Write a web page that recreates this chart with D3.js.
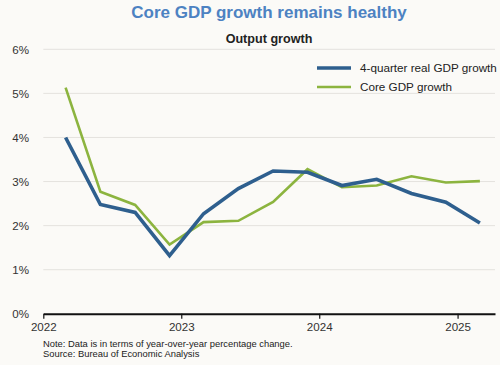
<!DOCTYPE html>
<html><head><meta charset="utf-8">
<script src="https://cdn.jsdelivr.net/npm/d3@7"></script>
<style>html,body{margin:0;padding:0;background:#fbfaf7;}svg{display:block;font-family:"Liberation Sans",Arial,sans-serif;}</style>
</head><body>
<script>
const dates = ["2022-03-01","2022-06-01","2022-09-01","2022-12-01","2023-03-01","2023-06-01","2023-09-01","2023-12-01","2024-03-01","2024-06-01","2024-09-01","2024-12-01","2025-03-01"];
const realGDP = [4.00,2.48,2.30,1.32,2.27,2.84,3.24,3.21,2.91,3.05,2.73,2.53,2.06];
const coreGDP = [5.13,2.77,2.47,1.57,2.08,2.11,2.54,3.28,2.87,2.91,3.12,2.98,3.01];
const yTicks = [0,1,2,3,4,5,6];
const xTicks = ["2022-01-01","2023-01-01","2024-01-01","2025-01-01"];
const seriesNames = ["4-quarter real GDP growth","Core GDP growth"];
const colors = ["#2e5f8e","#8cb43f"];

const W=500,H=365;
const svg=d3.select("body").append("svg").attr("width",W).attr("height",H);
svg.append("rect").attr("width",W).attr("height",H).attr("fill","#fbfaf7");
const parse=d3.timeParse("%Y-%m-%d");
const x=d3.scaleTime().domain([parse("2022-01-01"),parse("2025-04-10")]).range([43.3,495]);
const y=d3.scaleLinear().domain([0,6]).range([313.8,49.3]);

svg.append("text").attr("x",269).attr("y",17.5).attr("text-anchor","middle").attr("font-size",17).attr("font-weight","bold").attr("fill","#4d82c2").text("Core GDP growth remains healthy");
svg.append("text").attr("x",269).attr("y",42.5).attr("text-anchor","middle").attr("font-size",12.6).attr("font-weight","bold").attr("fill","#222").text("Output growth");

// grid
svg.append("g").selectAll("line").data(yTicks.filter(d=>d>0)).join("line")
 .attr("x1",43.3).attr("x2",495).attr("y1",d=>y(d)).attr("y2",d=>y(d)).attr("stroke","#e4e2de").attr("stroke-width",1);
// y labels
svg.append("g").selectAll("text").data(yTicks).join("text")
 .attr("x",29).attr("y",d=>y(d)+4.2).attr("text-anchor","end").attr("font-size",11.6).attr("fill","#333").text(d=>d+"%");

// x axis
const xa=d3.axisBottom(x).tickValues(xTicks.map(parse)).tickFormat(d3.timeFormat("%Y")).tickSize(5).tickSizeOuter(0);
const gx=svg.append("g").attr("transform",`translate(0,${y(0)})`).call(xa);
gx.select(".domain").attr("stroke","#111").attr("stroke-width",2);
gx.selectAll(".tick line").attr("stroke","#111").attr("stroke-width",1.2);
gx.selectAll(".tick text").attr("font-size",11.6).attr("fill","#333").attr("font-family","Liberation Sans, Arial, sans-serif").attr("y",17.7).attr("dy",0);

const line=d3.line().x((d,i)=>x(parse(dates[i]))).y(d=>y(d));
svg.append("path").datum(coreGDP).attr("d",line).attr("fill","none").attr("stroke",colors[1]).attr("stroke-width",2.6).attr("stroke-linejoin","miter");
svg.append("path").datum(realGDP).attr("d",line).attr("fill","none").attr("stroke",colors[0]).attr("stroke-width",3.6).attr("stroke-linejoin","miter");

// legend
const lg=svg.append("g");
seriesNames.forEach((n,i)=>{
  const yy=68+i*19;
  lg.append("line").attr("x1",317).attr("x2",351).attr("y1",yy).attr("y2",yy).attr("stroke",colors[i]).attr("stroke-width",i===0?3.6:2.6);
  lg.append("text").attr("x",360).attr("y",yy+4.4).attr("font-size",11.7).attr("fill","#222").text(n);
});

svg.append("text").attr("x",43).attr("y",347).attr("font-size",9.4).attr("fill","#222").text("Note: Data is in terms of year-over-year percentage change.");
svg.append("text").attr("x",43).attr("y",356.5).attr("font-size",9.4).attr("fill","#222").text("Source: Bureau of Economic Analysis");
</script>
</body></html>
